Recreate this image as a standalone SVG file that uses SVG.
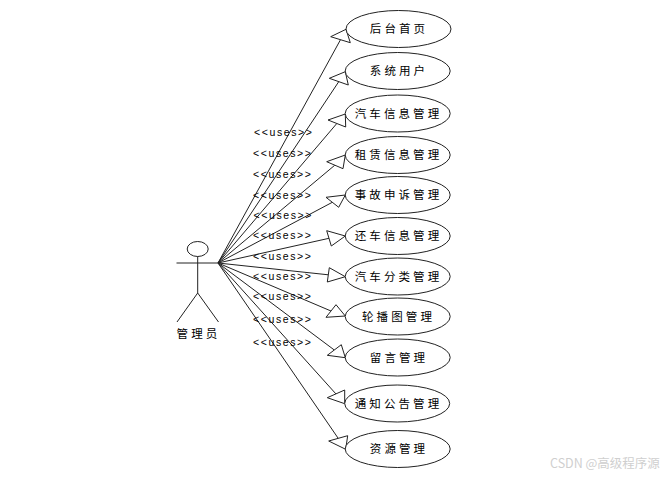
<svg xmlns="http://www.w3.org/2000/svg" width="667" height="478" viewBox="0 0 667 478">
<style>
.s{fill:none;stroke:#222;stroke-width:1}
.e{fill:#fff;stroke:#222;stroke-width:1}
.h{fill:#fff;stroke:#222;stroke-width:1;stroke-linejoin:miter}
.t{font-family:"Noto Sans CJK SC","Liberation Sans",sans-serif;font-size:11.5px;letter-spacing:3.1px;text-anchor:middle;fill:#000}
.u{font-family:"Liberation Sans",sans-serif;font-size:10.5px;letter-spacing:1.6px;fill:#000}
.w{font-family:"Noto Sans CJK SC","Liberation Sans",sans-serif;font-size:12.5px;fill:#cfcfcf}
</style>
<rect width="667" height="478" fill="#fff"/>
<g id="connectors">
<path class="s" d="M218 263L340.5 39.7M218 263L338.8 81.6M218 263L336.8 123.5M218 263L334.8 165.2M218 263L332.3 202.3M218 263L329 238.3M218 263L328.3 274.8M218 263L331 311M218 263L334.3 350M218 263L336 394M218 263L338.2 438.3"/>
<polygon class="h" points="346,29.3 330.7,36.7 350.3,42.7"/>
<polygon class="h" points="345.3,71.7 329.3,78.3 348.3,85"/>
<polygon class="h" points="345.3,114 328,120 345.7,127"/>
<polygon class="h" points="345.3,155 326.7,161.7 343,168.7"/>
<polygon class="h" points="345.3,195 326,197.3 338.7,207.3"/>
<polygon class="h" points="345.3,236 326.7,230.7 331.3,246"/>
<polygon class="h" points="345.3,276.7 329.3,267.7 327.3,282"/>
<polygon class="h" points="345.3,316 336,304.7 326,317.3"/>
<polygon class="h" points="345.3,357.7 341.3,344.7 327.3,355.3"/>
<polygon class="h" points="344.7,403.7 344.7,390 327.3,397.7"/>
<polygon class="h" points="345.7,449.3 347.7,435.7 328.7,441"/>
<text class="u" x="254" y="136">&lt;&lt;uses&gt;&gt;</text>
<text class="u" x="253" y="157">&lt;&lt;uses&gt;&gt;</text>
<text class="u" x="253" y="178">&lt;&lt;uses&gt;&gt;</text>
<text class="u" x="253" y="199">&lt;&lt;uses&gt;&gt;</text>
<text class="u" x="253.500" y="219">&lt;&lt;uses&gt;&gt;</text>
<text class="u" x="253" y="239">&lt;&lt;uses&gt;&gt;</text>
<text class="u" x="253" y="260">&lt;&lt;uses&gt;&gt;</text>
<text class="u" x="253" y="280">&lt;&lt;uses&gt;&gt;</text>
<text class="u" x="253" y="300">&lt;&lt;uses&gt;&gt;</text>
<text class="u" x="253" y="323">&lt;&lt;uses&gt;&gt;</text>
<text class="u" x="253" y="346">&lt;&lt;uses&gt;&gt;</text>
</g>
<g id="actor">
<ellipse class="s" cx="197.700" cy="249" rx="10.500" ry="7.500"/>
<path class="s" d="M176.500 263H218.500M197.700 256.500V293M197.700 293L177 322M197.700 293L218.500 322"/>
<text class="t" x="198.500" y="337.500">管理员</text>
</g>
<g id="n1"><ellipse class="e" cx="398.500" cy="29" rx="52.500" ry="18.500"/><text class="t" x="399" y="33">后台首页</text></g>
<g id="n2"><ellipse class="e" cx="397.700" cy="71" rx="52.500" ry="18.500"/><text class="t" x="399" y="75">系统用户</text></g>
<g id="n3"><ellipse class="e" cx="397.700" cy="113.500" rx="52.500" ry="18.500"/><text class="t" x="398.500" y="117.500">汽车信息管理</text></g>
<g id="n4"><ellipse class="e" cx="397.700" cy="155" rx="52.500" ry="18.500"/><text class="t" x="398.500" y="159">租赁信息管理</text></g>
<g id="n5"><ellipse class="e" cx="397.700" cy="195" rx="52.500" ry="18.500"/><text class="t" x="398.500" y="199">事故申诉管理</text></g>
<g id="n6"><ellipse class="e" cx="397.700" cy="236" rx="52.500" ry="18.500"/><text class="t" x="398.500" y="240">还车信息管理</text></g>
<g id="n7"><ellipse class="e" cx="397.700" cy="276.500" rx="52.500" ry="18.500"/><text class="t" x="398.500" y="280.500">汽车分类管理</text></g>
<g id="n8"><ellipse class="e" cx="397.700" cy="316.500" rx="52.500" ry="18.500"/><text class="t" x="398.500" y="320.500">轮播图管理</text></g>
<g id="n9"><ellipse class="e" cx="397.700" cy="357.500" rx="52.500" ry="18.500"/><text class="t" x="399" y="361.500">留言管理</text></g>
<g id="n10"><ellipse class="e" cx="397.200" cy="403.500" rx="52.500" ry="18.500"/><text class="t" x="398.500" y="407.500">通知公告管理</text></g>
<g id="n11"><ellipse class="e" cx="397.700" cy="449" rx="52.500" ry="18.500"/><text class="t" x="399" y="453">资源管理</text></g>
<text class="w" x="550" y="468">CSDN @高级程序源</text>
</svg>
